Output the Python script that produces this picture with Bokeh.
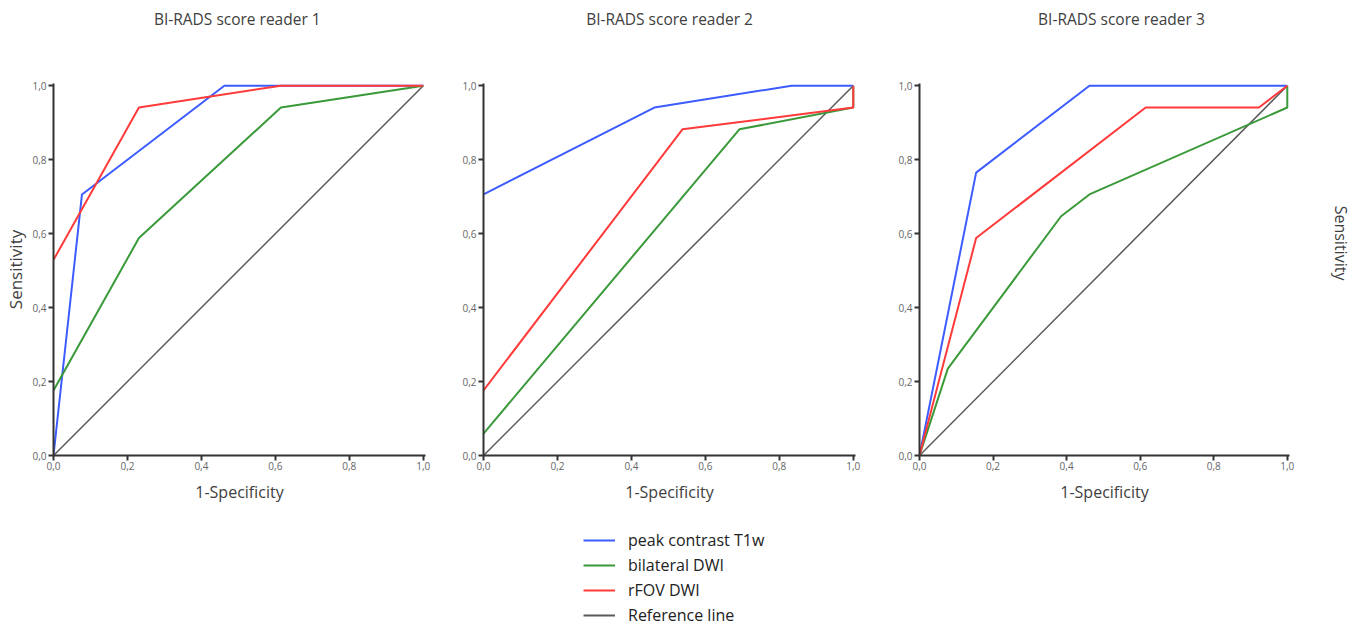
import math
from bokeh.plotting import figure
from bokeh.layouts import column, row
from bokeh.models import (Range1d, FixedTicker, CustomJSTickFormatter, Label,
                          Legend, LegendItem)
from bokeh.embed import file_html
from bokeh.resources import INLINE

# ---------------- data ----------------
titles = ["BI-RADS score reader 1", "BI-RADS score reader 2", "BI-RADS score reader 3"]
series_names = ["peak contrast T1w", "bilateral DWI", "rFOV DWI", "Reference line"]
series_colors = ["#3d5cff", "#3a9a3a", "#ff3a3a", "#5a5a5a"]

# reader 1
r1_peak_x = [0.0, 0.077, 0.462, 1.0]
r1_peak_y = [0.0, 0.706, 1.0, 1.0]
r1_bilat_x = [0.0, 0.231, 0.615, 1.0]
r1_bilat_y = [0.176, 0.588, 0.941, 1.0]
r1_rfov_x = [0.0, 0.231, 0.615, 1.0]
r1_rfov_y = [0.529, 0.941, 1.0, 1.0]

# reader 2
r2_peak_x = [0.0, 0.462, 0.833, 1.0]
r2_peak_y = [0.706, 0.941, 1.0, 1.0]
r2_bilat_x = [0.0, 0.692, 1.0, 1.0]
r2_bilat_y = [0.059, 0.882, 0.941, 1.0]
r2_rfov_x = [0.0, 0.538, 1.0, 1.0]
r2_rfov_y = [0.176, 0.882, 0.941, 1.0]

# reader 3
r3_peak_x = [0.0, 0.154, 0.462, 1.0]
r3_peak_y = [0.0, 0.765, 1.0, 1.0]
r3_bilat_x = [0.0, 0.077, 0.385, 0.462, 1.0, 1.0]
r3_bilat_y = [0.0, 0.235, 0.647, 0.706, 0.941, 1.0]
r3_rfov_x = [0.0, 0.154, 0.615, 0.923, 1.0]
r3_rfov_y = [0.0, 0.588, 0.941, 0.941, 1.0]

ref_x = [0.0, 1.0]
ref_y = [0.0, 1.0]

ticks = [0.0, 0.2, 0.4, 0.6, 0.8, 1.0]

readers = [
    [(r1_peak_x, r1_peak_y), (r1_bilat_x, r1_bilat_y), (r1_rfov_x, r1_rfov_y)],
    [(r2_peak_x, r2_peak_y), (r2_bilat_x, r2_bilat_y), (r2_rfov_x, r2_rfov_y)],
    [(r3_peak_x, r3_peak_y), (r3_bilat_x, r3_bilat_y), (r3_rfov_x, r3_rfov_y)],
]

FONT = "Open Sans"
TXT = "#404040"
fmt_code = "return tick.toFixed(1).replace('.', ',');"

# layout geometry: (width, left border, right border, frame width, title centre as frame fraction)
geo = [(448, 53, 23, 372, 0.497), (436, 35, 29, 372, 0.503), (425, 35, 20, 370, 0.549)]
HEAD_H = 36
TOP, FRAME_H, BOTTOM = 83 - HEAD_H, 372, 52
PLOT_H = TOP + FRAME_H + BOTTOM
TOTAL_W = 1352
SIDE_W = TOTAL_W - sum(g[0] for g in geo)


def blank(w, h, xr, yr):
    f = figure(width=w, height=h, min_border=0, x_range=xr, y_range=yr,
               output_backend="svg", toolbar_location=None)
    f.axis.visible = False
    f.grid.visible = False
    f.outline_line_color = None
    return f


# header strip holding the three panel titles (pixel coordinates)
head = blank(TOTAL_W, HEAD_H, Range1d(0, TOTAL_W), Range1d(0, HEAD_H))
x0 = 0
for (w, lb, rb, fw, frac), t in zip(geo, titles):
    cx = x0 + lb + frac * fw / 1.006
    head.add_layout(Label(x=cx, y=HEAD_H / 2, text=t, text_align="center",
                          text_baseline="middle", text_font=FONT,
                          text_font_size="15.5px", text_color=TXT))
    x0 += w

figs = []
for i, (w, lb, rb, fw, frac) in enumerate(geo):
    p = figure(width=w, height=PLOT_H,
               min_border_left=lb, min_border_right=rb,
               min_border_top=TOP, min_border_bottom=BOTTOM,
               x_range=Range1d(0, 1.006), y_range=Range1d(0, 1.006),
               output_backend="svg", toolbar_location=None)
    p.grid.visible = False
    p.outline_line_color = None
    p.background_fill_color = "white"
    p.border_fill_color = "white"
    for ax in (p.xaxis[0], p.yaxis[0]):
        ax.ticker = FixedTicker(ticks=ticks)
        ax.formatter = CustomJSTickFormatter(code=fmt_code)
        ax.axis_line_color = "#333333"
        ax.axis_line_width = 2
        ax.major_tick_line_color = "#333333"
        ax.major_tick_line_width = 2
        ax.major_tick_out = 5
        ax.major_tick_in = 0
        ax.minor_tick_line_color = None
        ax.major_label_text_font = FONT
        ax.major_label_text_font_size = "10px"
        ax.major_label_text_color = "#666666"
        ax.axis_label_text_font = FONT
        ax.axis_label_text_font_style = "normal"
        ax.axis_label_text_color = TXT
    p.xaxis[0].axis_label = "1-Specificity"
    p.xaxis[0].axis_label_text_font_size = "16px"
    p.xaxis[0].major_label_standoff = 1
    p.xaxis[0].axis_label_standoff = 8
    p.yaxis[0].major_label_standoff = 2
    if i == 0:
        p.yaxis[0].axis_label = "Sensitivity"
        p.yaxis[0].axis_label_text_font_size = "17px"
        p.yaxis[0].axis_label_standoff = 2
    # reference line first (drawn underneath)
    p.line(ref_x, ref_y, line_color=series_colors[3], line_width=1.5)
    for (xs, ys), col in zip(readers[i], series_colors[:3]):
        p.line(xs, ys, line_color=col, line_width=2)
    figs.append(p)

# strip to the right of panel 3 with the rotated "Sensitivity" label
side = blank(SIDE_W, PLOT_H, Range1d(0, SIDE_W), Range1d(0, PLOT_H))
side.add_layout(Label(x=SIDE_W - 12, y=PLOT_H - (238 - HEAD_H), text="Sensitivity",
                      angle=-math.pi / 2, text_align="center", text_baseline="middle",
                      text_font=FONT, text_font_size="16px", text_color=TXT))

# legend panel
leg = figure(width=800, height=119, min_border=0, x_range=(0, 1), y_range=(0, 1),
             output_backend="svg", toolbar_location=None)
leg.axis.visible = False
leg.grid.visible = False
leg.outline_line_color = None
items = []
for name, col in zip(series_names, series_colors):
    r = leg.line([-5, -4], [-5, -4], line_color=col, line_width=2)
    items.append(LegendItem(label=name, renderers=[r]))
legend = Legend(items=items, location=(583, 0), glyph_width=32, glyph_height=20,
                label_height=20, spacing=3, padding=0, margin=0,
                border_line_color=None, background_fill_alpha=0,
                label_text_font=FONT, label_text_font_size="16px",
                label_text_color="#222222", label_standoff=13)
leg.add_layout(legend)

layout = column(head, row(*figs, side), leg)
open("out.html", "w").write(file_html(layout, INLINE))
